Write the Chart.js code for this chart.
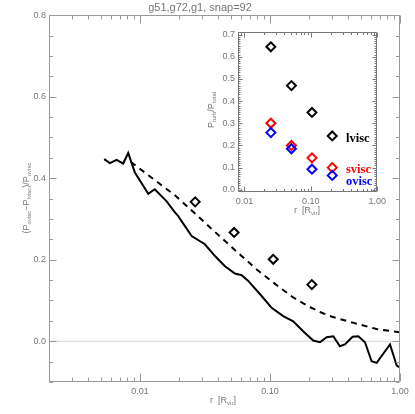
<!DOCTYPE html>
<html>
<head>
<meta charset="utf-8">
<script src="https://cdn.jsdelivr.net/npm/chart.js@4/dist/chart.umd.min.js"></script>
<style>
html,body{margin:0;padding:0;background:#fff}
#wrap{position:relative;width:415px;height:414px}
#main{position:absolute;left:0;top:0}
#inset{position:absolute;left:200px;top:24px}
</style>
</head>
<body>
<div id="wrap">
<canvas id="main" width="415" height="414"></canvas>
<canvas id="inset" width="190" height="200"></canvas>
</div>
<script>
// main panel: solid = (P_ovisc-P_lvisc)/P_ovisc profile, dashed = smooth version
const solidR = [0.00531,0.00588,0.00662,0.00744,0.00813,0.00915,0.0116,0.0130,0.0160,0.0186,0.0197,0.0250,0.0316,0.0378,0.0451,0.0538,0.0606,0.0681,0.0863,0.103,0.1265,0.151,0.180,0.215,0.2424,0.273,0.307,0.345,0.377,0.432,0.478,0.538,0.605,0.662,0.767,0.838,0.944,1.0]
const solidY = [0.447,0.437,0.445,0.436,0.462,0.414,0.362,0.373,0.344,0.316,0.307,0.258,0.238,0.209,0.184,0.166,0.162,0.148,0.111,0.082,0.0615,0.049,0.0246,0.0017,-0.0025,0.0098,0.0123,-0.0123,-0.008,0.011,0.0123,-0.0025,-0.049,-0.053,-0.0246,-0.008,-0.060,-0.065]
const dashR = [0.0085,0.0186,0.025,0.035,0.0605,0.08,0.106,0.15,0.2,0.25,0.3,0.44,0.66,1.0]
const dashY = [0.44,0.358,0.321,0.278,0.209,0.175,0.144,0.108,0.085,0.070,0.060,0.045,0.030,0.022]
const diaR = [0.0266,0.053,0.106,0.21]
const diaY = [0.342,0.267,0.201,0.139]
const zeroR = [0.002,1]
const zeroY = [0,0]

// inset: P_turb/P_total
const insetR = [0.025,0.051,0.104,0.21]
const lvisc = [0.645,0.47,0.349,0.243]
const svisc = [0.30,0.20,0.144,0.10]
const ovisc = [0.258,0.185,0.093,0.065]
const insetNames = ['lvisc','svisc','ovisc']
const insetColors = ['#000000','#ff0000','#0000ff']

const xTicksMain = [0.01,0.1,1]
const yTicksMain = [0,0.2,0.4,0.6,0.8]
const xTicksInset = [0.01,0.1,1]
const yTicksInset = [0,0.1,0.2,0.3,0.4,0.5,0.6,0.7]

const pts = (xs,ys)=>xs.map((x,i)=>({x:x,y:ys[i]}))
const FONT = '"Liberation Sans", Arial, sans-serif'
const GREY = '#777'

function drawRich(ctx, parts, cx, cy, size, sub, color, rot){
    ctx.save()
    ctx.translate(cx,cy)
    if(rot) ctx.rotate(-Math.PI/2)
    ctx.fillStyle=color
    ctx.textBaseline='middle'
    ctx.textAlign='left'
    let w=0
    for(const [t,s] of parts){
        ctx.font=(s?sub:size)+'px '+FONT
        w+=ctx.measureText(t).width
    }
    let xx=-w/2
    for(const [t,s] of parts){
        ctx.font=(s?sub:size)+'px '+FONT
        ctx.fillText(t,xx,s?size*0.25:0)
        xx+=ctx.measureText(t).width
    }
    ctx.restore()
}

function logTicks(min,max){
    const out=[]
    for(let e=-4;e<=1;e++){
        for(let m=1;m<10;m++){
            const v=m*Math.pow(10,e)
            if(v>=min*0.999 && v<=max*1.001) out.push({v:v,major:m===1})
        }
    }
    return out
}

// box + inward ticks on all four sides, IDL style
function framePlugin(o){
    return {
        id:'frame',
        afterDatasetsDraw(chart){
            const ctx=chart.ctx, a=chart.chartArea, x=chart.scales.x, y=chart.scales.y
            const L=Math.round(a.left)+0.5, R=Math.round(a.right)-0.5
            const T=Math.round(a.top)+0.5, B=Math.round(a.bottom)-0.5
            ctx.save()
            ctx.strokeStyle=o.color
            ctx.lineWidth=1
            ctx.beginPath()
            ctx.rect(L,T,R-L,B-T)
            for(const t of logTicks(x.min,x.max)){
                const px=Math.round(x.getPixelForValue(t.v))+0.5
                const len=t.major?o.xMajor:o.xMinor
                ctx.moveTo(px,B); ctx.lineTo(px,B-len)
                ctx.moveTo(px,T); ctx.lineTo(px,T+len)
            }
            const n=Math.round((o.yTo-o.yFrom)/o.yStep)
            for(let i=0;i<=n;i++){
                const v=o.yFrom+i*o.yStep
                const q=v/o.yMajorStep
                const major=Math.abs(q-Math.round(q))<1e-6
                const py=Math.round(y.getPixelForValue(v))+0.5
                const len=major?o.yMajor:o.yMinor
                ctx.moveTo(L,py); ctx.lineTo(L+len,py)
                ctx.moveTo(R,py); ctx.lineTo(R-len,py)
            }
            ctx.stroke()
            ctx.restore()
            if(o.texts) o.texts(ctx)
        }
    }
}

const tickFont = {family:FONT, size:9}

new Chart(document.getElementById('main'), {
    type:'scatter',
    data:{
        datasets:[
            {data:pts(diaR,diaY), pointStyle:'rectRot', pointRadius:4.5, pointBorderWidth:2,
             borderColor:'#000', backgroundColor:'rgba(0,0,0,0)', showLine:false},
            {data:pts(solidR,solidY), showLine:true, pointRadius:0, borderColor:'#000', borderWidth:2, tension:0},
            {data:pts(dashR,dashY), showLine:true, pointRadius:0, borderColor:'#000', borderWidth:2, borderDash:[6,5], tension:0},
            {data:pts(zeroR,zeroY), showLine:true, pointRadius:0, borderColor:'#d0d0d0', borderWidth:1}
        ]
    },
    options:{
        responsive:false,
        animation:false,
        layout:{padding:{left:0,right:15,top:0,bottom:0}},
        plugins:{
            legend:{display:false},
            tooltip:{enabled:false},
            title:{display:true, text:'g51,g72,g1, snap=92', color:GREY,
                   font:{family:FONT,size:11,weight:'normal'}, padding:{top:1,bottom:1}}
        },
        scales:{
            x:{type:'logarithmic', min:0.002, max:1,
               grid:{display:false, drawTicks:false}, border:{display:false},
               afterBuildTicks:s=>{s.ticks=xTicksMain.map(v=>({value:v}))},
               afterFit:s=>{s.height=32},
               ticks:{color:GREY, font:tickFont, padding:4, maxRotation:0, autoSkip:false,
                      callback:v=>Number(v).toFixed(2)}},
            y:{type:'linear', min:-0.1, max:0.8,
               grid:{display:false, drawTicks:false}, border:{display:false},
               afterBuildTicks:s=>{s.ticks=yTicksMain.map(v=>({value:v}))},
               afterFit:s=>{s.width=49},
               ticks:{color:GREY, font:tickFont, padding:3, callback:v=>Number(v).toFixed(1)}}
        }
    },
    plugins:[framePlugin({color:'#999', xMajor:8, xMinor:4, yMajor:7, yMinor:3.5,
        yFrom:-0.1, yTo:0.8, yStep:0.05, yMajorStep:0.2,
        texts:ctx=>{
            drawRich(ctx,[['(P',0],['ovisc',1],['\u2212P',0],['lvisc',1],[')/P',0],['ovisc',1]],27,198,9,6,GREY,true)
            drawRich(ctx,[['r  [R',0],['vir',1],[']',0]],223,401,9,6,GREY,false)
        }})]
})

new Chart(document.getElementById('inset'), {
    type:'scatter',
    data:{
        datasets:[lvisc,svisc,ovisc].map((ys,i)=>({
            label:insetNames[i], data:pts(insetR,ys), pointStyle:'rectRot', pointRadius:4.5,
            pointBorderWidth:2, borderColor:insetColors[i], backgroundColor:'rgba(0,0,0,0)', showLine:false
        })).reverse()
    },
    options:{
        responsive:false,
        animation:false,
        layout:{padding:{left:0,right:8,top:8,bottom:0}},
        plugins:{legend:{display:false}, tooltip:{enabled:false}},
        scales:{
            x:{type:'logarithmic', min:0.008, max:1,
               grid:{display:false, drawTicks:false}, border:{display:false},
               afterBuildTicks:s=>{s.ticks=xTicksInset.map(v=>({value:v}))},
               afterFit:s=>{s.height=32},
               ticks:{color:GREY, font:tickFont, padding:4, maxRotation:0, autoSkip:false,
                      callback:v=>Number(v).toFixed(2)}},
            y:{type:'linear', min:-0.01, max:0.71,
               grid:{display:false, drawTicks:false}, border:{display:false},
               afterBuildTicks:s=>{s.ticks=yTicksInset.map(v=>({value:v}))},
               afterFit:s=>{s.width=38},
               ticks:{color:GREY, font:tickFont, padding:3, callback:v=>Number(v).toFixed(1)}}
        }
    },
    plugins:[framePlugin({color:'#777', xMajor:5, xMinor:2.5, yMajor:4, yMinor:2,
        yFrom:0, yTo:0.7, yStep:0.01, yMajorStep:0.1,
        texts:ctx=>{
            drawRich(ctx,[['P',0],['turb',1],['/P',0],['total',1]],12,86,9,6,GREY,true)
            drawRich(ctx,[['r  [R',0],['vir',1],[']',0]],107,187,9,6,GREY,false)
            const ys=[115,146,157.5]
            ctx.save()
            ctx.font='bold 12.5px "Liberation Serif", "Times New Roman", serif'
            ctx.textBaseline='middle'
            ctx.textAlign='left'
            insetNames.forEach((nm,i)=>{ctx.fillStyle=insetColors[i]; ctx.fillText(nm,146,ys[i])})
            ctx.restore()
        }})]
})
</script>
</body>
</html>
